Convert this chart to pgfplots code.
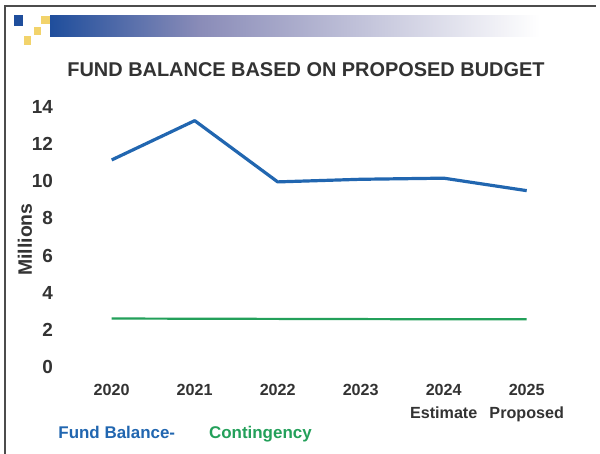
\documentclass[border=0pt]{standalone}
\usepackage{pgfplots}
\pgfplotsset{compat=1.18}
\usepackage{fontspec}
\setmainfont{Liberation Sans}
\definecolor{fbblue}{HTML}{2166B0}
\definecolor{cgreen}{HTML}{23A05A}
\definecolor{txt}{HTML}{333333}
\definecolor{barblue}{HTML}{1F4E9C}
\definecolor{barmid}{HTML}{8A8CB8}
\definecolor{sqyel}{HTML}{F2D36B}
\begin{document}
\begin{tikzpicture}[x=1bp,y=1bp]
\useasboundingbox (0,0) rectangle (600,454);
\fill[white] (0,0) rectangle (600,454);
% slide frame
\draw[line width=1.8bp, color=black!70] (5,0) -- (5,448) -- (596,448);
% header decoration
\fill[barblue] (14,428) rectangle (23,439);
\fill[sqyel] (41,430) rectangle (50,438);
\fill[sqyel] (34,419) rectangle (41,427);
\fill[sqyel] (24,409) rectangle (31,418);
\shade[left color=barblue, right color=barmid] (50,417) rectangle (200,438);
\shade[left color=barmid, right color=white] (200,417) rectangle (540,438);
% title
\node[font=\bfseries\fontsize{20}{23}\selectfont, text=txt, anchor=base] at (306,377) {FUND BALANCE BASED ON PROPOSED BUDGET};
\begin{axis}[
  at={(70.2bp,86.7bp)}, anchor=south west,
  scale only axis, width=498bp, height=260.6bp,
  xmin=-0.5, xmax=5.5, ymin=0, ymax=14,
  clip=false,
  axis line style={draw=none},
  major tick length=0pt,
  xtick={0,1,2,3,4,5},
  xticklabels={2020,2021,2022,2023,{2024\\Estimate},{2025\\Proposed}},
  ytick={0,2,4,6,8,10,12,14},
  /pgf/number format/assume math mode=true,
  yticklabel style={font=\bfseries\fontsize{19}{22}\selectfont, text=txt, anchor=east, inner sep=0pt, xshift=-17bp},
  xticklabel style={font=\bfseries\fontsize{16.2}{22.5}\selectfont, text=txt, anchor=north, inner sep=0pt, yshift=-17bp, align=center},
  ylabel={Millions},
  every axis y label/.style={at={(axis description cs:-0.091,0.49)}, rotate=90, anchor=center, font=\bfseries\fontsize{19.5}{22}\selectfont, text=txt},
  legend style={at={(axis description cs:-0.028,-0.252)}, anchor=west, draw=none, fill=none, inner sep=0pt,
    legend columns=2, font=\bfseries\fontsize{17}{20}\selectfont,
    /tikz/every even column/.append style={column sep=30bp}},
  legend image code/.code={},
]
\addplot[color=fbblue, line width=3.2bp, line join=round] coordinates {
  (0,11.14) (1,13.25) (2,9.96) (3,10.10) (4,10.16) (5,9.49)};
\addlegendentry{\textcolor{fbblue}{Fund Balance-}}
\addplot[color=cgreen, line width=2.2bp] coordinates {
  (0,2.62) (1,2.61) (2,2.60) (3,2.59) (4,2.58) (5,2.58)};
\addlegendentry{\textcolor{cgreen}{Contingency}}
\end{axis}
\end{tikzpicture}
\end{document}
